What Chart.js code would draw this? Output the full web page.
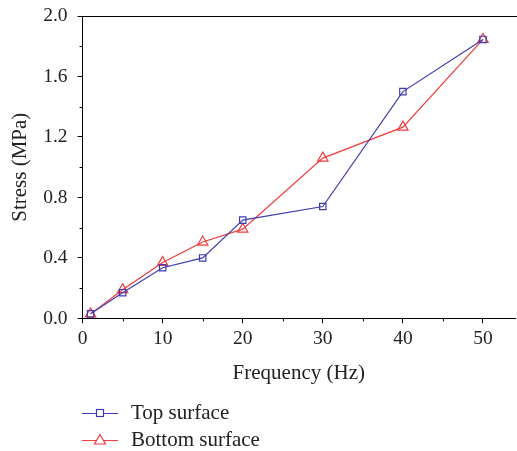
<!DOCTYPE html>
<html lang="en">
<head>
    <meta charset="UTF-8">
    <title>Stress vs Frequency</title>
    <style>
        body {
            margin: 0;
            background-color: #ffffff;
            font-family: 'Liberation Serif', 'DejaVu Serif', serif;
            overflow: hidden;
        }
        #wrap {
            position: relative;
            width: 517px;
            height: 451px;
        }
        #wrap canvas {
            display: block;
        }
        #legend {
            position: absolute;
            left: 82px;
            top: 399px;
            font-size: 21px;
            color: #222;
        }
        .item {
            display: flex;
            align-items: center;
            height: 27px;
        }
        .item svg {
            margin-right: 13px;
        }
    </style>
</head>
<body>
    <div id="wrap">
        <canvas id="stressChart"></canvas>
        <div id="legend"></div>
    </div>

    <script src="https://cdn.jsdelivr.net/npm/chart.js@4.4.1/dist/chart.umd.min.js"></script>
    <script>
        // data
        const freq = [1, 5, 10, 15, 20, 30, 40, 50];
        const topStress = [0.03, 0.17, 0.335, 0.40, 0.65, 0.74, 1.50, 1.845];
        const bottomStress = [0.03, 0.19, 0.37, 0.505, 0.59, 1.06, 1.265, 1.845];
        const xTicks = [0, 10, 20, 30, 40, 50];
        const yTicks = [0.0, 0.4, 0.8, 1.2, 1.6, 2.0];
        const seriesNames = ['Top surface', 'Bottom surface'];

        const blue = '#3c3cb4';
        const red = '#f03c3c';
        const family = "'Liberation Serif', 'DejaVu Serif', serif";
        const tickFont = { family: family, size: 19.5 };
        const titleFont = { family: family, size: 21 };

        // minor ticks + top border line
        const framePlugin = {
            id: 'frame',
            afterDraw(chart) {
                const ctx = chart.ctx;
                const a = chart.chartArea;
                const xs = chart.scales.x, ys = chart.scales.y;
                ctx.save();
                ctx.strokeStyle = '#000';
                ctx.lineWidth = 1;
                ctx.beginPath();
                ctx.moveTo(a.left, a.top + 0.5);
                ctx.lineTo(chart.width, a.top + 0.5);
                for (let i = 0; i < xTicks.length; i++) {
                    const next = i + 1 < xTicks.length ? xTicks[i + 1] : xTicks[i] + (xTicks[1] - xTicks[0]);
                    const v = (xTicks[i] + next) / 2;
                    if (v > xs.max) continue;
                    const px = Math.round(xs.getPixelForValue(v)) + 0.5;
                    ctx.moveTo(px, a.bottom);
                    ctx.lineTo(px, a.bottom + 3);
                }
                for (let i = 0; i + 1 < yTicks.length; i++) {
                    const v = (yTicks[i] + yTicks[i + 1]) / 2;
                    const py = Math.round(ys.getPixelForValue(v)) + 0.5;
                    ctx.moveTo(a.left, py);
                    ctx.lineTo(a.left - 3, py);
                }
                ctx.stroke();
                ctx.restore();
            }
        };

        // let the labels overhang the plot edges instead of shrinking it
        function noOverhang(s) {
            s.paddingLeft = s.paddingRight = s.paddingTop = s.paddingBottom = 0;
            if (s._margins) {
                s._margins.left = s._margins.right = s._margins.top = s._margins.bottom = 0;
            }
        }

        function toPoints(ys) {
            return freq.map((f, i) => ({ x: f, y: ys[i] }));
        }

        new Chart(document.getElementById('stressChart'), {
            type: 'line',
            data: {
                datasets: [{
                    label: seriesNames[0],
                    data: toPoints(topStress),
                    borderColor: blue,
                    borderWidth: 1.2,
                    backgroundColor: '#ffffff',
                    pointStyle: 'rect',
                    pointRadius: 4.5,
                    pointBorderWidth: 1.2,
                    pointBorderColor: blue,
                    pointBackgroundColor: 'rgba(255,255,255,0)'
                }, {
                    label: seriesNames[1],
                    data: toPoints(bottomStress),
                    borderColor: red,
                    borderWidth: 1.2,
                    backgroundColor: '#ffffff',
                    pointStyle: 'triangle',
                    pointRadius: 6,
                    pointBorderWidth: 1.2,
                    pointBorderColor: red,
                    pointBackgroundColor: 'rgba(255,255,255,0)'
                }]
            },
            options: {
                responsive: true,
                maintainAspectRatio: false,
                animation: false,
                layout: { autoPadding: false, padding: { top: 16, right: 2, bottom: 65, left: 8 } },
                plugins: {
                    legend: { display: false },
                    tooltip: { enabled: false }
                },
                scales: {
                    x: {
                        type: 'linear',
                        min: 0,
                        max: 54,
                        afterBuildTicks: s => { s.ticks = xTicks.map(v => ({ value: v })); },
                        afterFit: noOverhang,
                        grid: { drawOnChartArea: false, tickLength: 5, tickColor: '#000' },
                        border: { display: true, color: '#000', width: 1 },
                        ticks: { color: '#222', font: tickFont, padding: 4, maxRotation: 0 },
                        title: { display: true, text: 'Frequency (Hz)', color: '#222', font: titleFont, padding: { top: 6, bottom: 0 } }
                    },
                    y: {
                        min: 0,
                        max: 2,
                        afterBuildTicks: s => { s.ticks = yTicks.map(v => ({ value: v })); },
                        afterFit: noOverhang,
                        grid: { drawOnChartArea: false, tickLength: 5, tickColor: '#000' },
                        border: { display: true, color: '#000', width: 1 },
                        ticks: { color: '#222', font: tickFont, padding: 10, callback: v => v.toFixed(1) },
                        title: { display: true, text: 'Stress (MPa)', color: '#222', font: titleFont, padding: { top: 0, bottom: 0 } }
                    }
                }
            },
            plugins: [framePlugin]
        });

        // legend: line + hollow marker, then the name
        const legendMarks = [
            { color: blue, shape: '<rect x="14.5" y="3.5" width="7" height="7" fill="#fff" stroke="' + blue + '" stroke-width="1.2"/>' },
            { color: red, shape: '<polygon points="18,1.5 23.5,11 12.5,11" fill="#fff" stroke="' + red + '" stroke-width="1.2"/>' }
        ];
        document.getElementById('legend').innerHTML = seriesNames.map((name, i) =>
            '<div class="item"><svg width="36" height="14">' +
            '<line x1="0" y1="7.5" x2="36" y2="7.5" stroke="' + legendMarks[i].color + '" stroke-width="1.2"/>' +
            legendMarks[i].shape + '</svg><span>' + name + '</span></div>'
        ).join('');
    </script>
</body>
</html>
